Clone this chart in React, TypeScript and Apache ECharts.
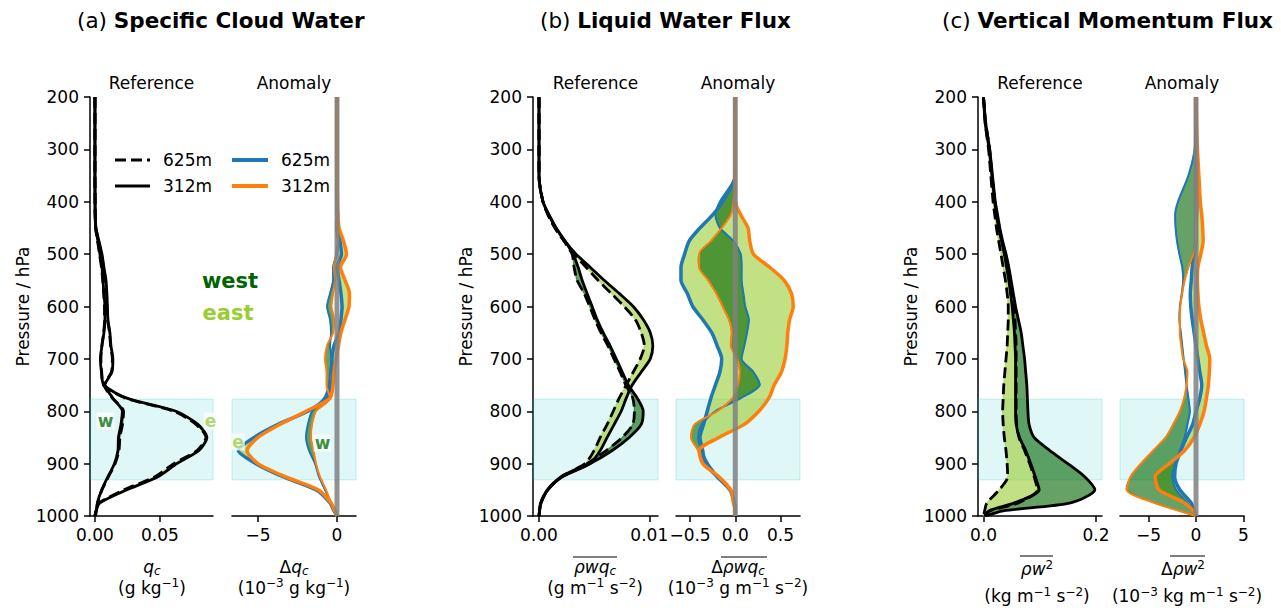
import React, { useEffect, useRef } from "react";
import * as echarts from "echarts";

// pressure levels (hPa)
const P = [200, 250, 300, 350, 400, 425, 450, 475, 500, 525, 550, 575, 600, 625, 650, 675, 700, 725, 750, 775, 800, 825, 850, 875, 900, 925, 950, 975, 990, 1000];
const BOX = [777, 931];
const Y_TICKS_INTERVAL = 100;

// (a) specific cloud water, reference (g/kg)
const A_REF_W625 = [0, 0, 0, 0, 0.0001, 0.0002, 0.0007, 0.0028, 0.005, 0.0066, 0.0081, 0.0089, 0.0093, 0.0097, 0.0112, 0.012, 0.0134, 0.0127, 0.0073, 0.0134, 0.022, 0.0212, 0.0192, 0.0185, 0.0155, 0.0104, 0.0055, 0.002, 0.0012, 0.0004];
const A_REF_W312 = [0, 0, 0, 0, 0.0001, 0.0002, 0.0008, 0.0031, 0.0054, 0.0069, 0.0085, 0.0092, 0.0096, 0.01, 0.0115, 0.0123, 0.0138, 0.0131, 0.0077, 0.0138, 0.0211, 0.02, 0.0181, 0.0177, 0.015, 0.01, 0.0052, 0.0019, 0.0012, 0.0004];
const A_REF_E625 = [0, 0, 0, 0, 0.0001, 0.0002, 0.0005, 0.002, 0.0035, 0.005, 0.006, 0.0067, 0.0073, 0.0074, 0.0067, 0.0053, 0.0046, 0.0052, 0.0065, 0.0235, 0.0607, 0.0777, 0.0854, 0.0785, 0.0607, 0.0461, 0.0223, 0.0033, 0.0007, 0];
const A_REF_E312 = [0, 0, 0, 0, 0.0001, 0.0002, 0.0005, 0.0023, 0.0038, 0.0054, 0.0062, 0.0069, 0.0077, 0.0077, 0.0069, 0.0054, 0.0042, 0.005, 0.0069, 0.0246, 0.0623, 0.0792, 0.0861, 0.08, 0.063, 0.0484, 0.0246, 0.0038, 0.0008, 0];
// (a) anomaly (1e-3 g/kg)
const A_ANO_W625 = [0, 0, 0, 0, 0, 0, -0.06, 0.06, 0, -0.25, -0.25, -0.44, -0.63, -0.44, -0.38, -0.44, -0.35, -0.44, -0.51, -0.82, -1.58, -1.84, -1.96, -1.77, -1.39, -1.14, -0.76, -0.38, -0.19, 0];
const A_ANO_W312 = [0, 0, 0, 0, 0, 0, 0, 0.06, -0.06, -0.19, -0.13, -0.25, -0.35, -0.19, -0.25, -0.63, -0.76, -0.66, -0.66, -0.44, -1.33, -1.58, -1.65, -1.49, -1.33, -1.08, -0.7, -0.38, -0.19, 0];
const A_ANO_E625 = [0, 0, 0, 0, 0, 0.03, 0.06, 0.19, 0.28, 0, 0.13, 0.25, 0.32, 0.25, 0.13, -0.19, -0.32, -0.28, -0.38, -0.7, -1.84, -3.73, -5.25, -6.25, -5.13, -3.42, -1.33, -0.44, -0.19, 0];
const A_ANO_E312 = [0, 0, 0, 0, 0.03, 0.06, 0.13, 0.41, 0.6, 0.22, 0.51, 0.79, 0.76, 0.51, 0.25, 0.09, -0.06, -0.19, -0.25, -0.44, -1.96, -3.61, -5.0, -5.7, -5.0, -3.29, -1.2, -0.38, -0.13, 0];

// (b) liquid water flux, reference (g m-1 s-2)
const B_REF_W625 = [0, 0, 0, 0, 0.00036, 0.00082, 0.00145, 0.00227, 0.003, 0.00318, 0.00345, 0.0041, 0.0046, 0.00507, 0.00562, 0.00625, 0.0068, 0.00735, 0.00787, 0.0085, 0.00865, 0.0085, 0.00755, 0.00609, 0.00436, 0.002, 0.00075, 0.00014, 0.00005, 0];
const B_REF_W312 = [0, 0, 0, 0, 0.00036, 0.00091, 0.00155, 0.00236, 0.00309, 0.00355, 0.00391, 0.00436, 0.00482, 0.00527, 0.00582, 0.00645, 0.007, 0.00755, 0.00809, 0.00891, 0.00945, 0.00927, 0.00818, 0.00664, 0.00464, 0.0021, 0.0008, 0.00018, 0.00005, 0];
const B_REF_E625 = [0, 0, 0, 0, 0.00036, 0.00082, 0.00145, 0.00227, 0.00318, 0.00427, 0.00536, 0.00655, 0.00773, 0.00873, 0.00927, 0.00955, 0.00918, 0.00855, 0.00791, 0.00727, 0.00673, 0.00618, 0.00555, 0.005, 0.00418, 0.002, 0.00075, 0.00014, 0.00005, 0];
const B_REF_E312 = [0, 0, 0, 0, 0.00036, 0.00091, 0.00155, 0.00236, 0.00336, 0.00464, 0.00591, 0.00727, 0.00855, 0.00945, 0.01009, 0.01032, 0.01009, 0.00927, 0.00845, 0.00791, 0.00745, 0.00682, 0.00618, 0.00555, 0.00464, 0.0021, 0.0008, 0.00018, 0.00005, 0];
// (b) anomaly (1e-3 g m-1 s-2)
const B_ANO_W625 = [0, 0, 0, 0, -0.17, -0.22, -0.17, -0.02, 0.06, 0.07, 0.07, 0.09, 0.11, 0.15, 0.13, 0.1, 0.07, 0.2, 0.27, 0.06, -0.22, -0.37, -0.41, -0.37, -0.3, -0.19, -0.06, -0.01, 0, 0];
const B_ANO_W312 = [0, 0, 0, 0, -0.02, -0.05, -0.15, -0.27, -0.4, -0.4, -0.3, -0.21, -0.14, -0.07, -0.04, -0.05, 0.02, 0.05, 0.03, -0.03, -0.2, -0.45, -0.49, -0.41, -0.35, -0.19, -0.06, -0.01, 0, 0];
const B_ANO_E625 = [0, 0, 0, 0, -0.14, -0.25, -0.39, -0.51, -0.56, -0.6, -0.6, -0.53, -0.47, -0.36, -0.26, -0.2, -0.15, -0.17, -0.22, -0.27, -0.31, -0.35, -0.39, -0.36, -0.33, -0.2, -0.06, -0.01, 0, 0];
const B_ANO_E312 = [0, 0, 0, 0, 0, 0.06, 0.14, 0.16, 0.2, 0.38, 0.54, 0.62, 0.64, 0.6, 0.58, 0.57, 0.55, 0.51, 0.43, 0.37, 0.26, 0.1, -0.18, -0.4, -0.36, -0.18, -0.05, -0.02, 0, 0];

// (c) vertical momentum flux, reference (kg m-1 s-2)
const C_REF_W625 = [0, 0.004, 0.011, 0.015, 0.02, 0.024, 0.028, 0.033, 0.039, 0.044, 0.048, 0.051, 0.054, 0.056, 0.057, 0.058, 0.058, 0.058, 0.058, 0.058, 0.058, 0.059, 0.063, 0.073, 0.082, 0.09, 0.096, 0.062, 0.012, 0.002];
const C_REF_W312 = [0, 0.004, 0.011, 0.016, 0.021, 0.025, 0.029, 0.034, 0.04, 0.045, 0.049, 0.053, 0.057, 0.062, 0.067, 0.07, 0.073, 0.075, 0.077, 0.078, 0.079, 0.081, 0.09, 0.118, 0.15, 0.18, 0.198, 0.155, 0.035, 0.003];
const C_REF_E625 = [0, 0.003, 0.009, 0.013, 0.017, 0.02, 0.023, 0.027, 0.031, 0.035, 0.039, 0.042, 0.044, 0.044, 0.043, 0.042, 0.04, 0.038, 0.036, 0.035, 0.034, 0.035, 0.037, 0.04, 0.042, 0.043, 0.028, 0.006, 0.002, 0];
const C_REF_E312 = [0, 0.003, 0.01, 0.015, 0.02, 0.023, 0.027, 0.032, 0.037, 0.041, 0.045, 0.048, 0.051, 0.053, 0.055, 0.056, 0.057, 0.057, 0.057, 0.057, 0.057, 0.058, 0.064, 0.075, 0.084, 0.092, 0.099, 0.055, 0.01, 0.002];
// (c) anomaly (1e-3 kg m-1 s-2)
const C_ANO_W625 = [0, -0.05, -0.15, -0.8, -1.9, -2.2, -2.15, -2.0, -1.75, -1.45, -1.35, -1.5, -1.7, -1.75, -1.6, -1.45, -1.3, -1.15, -1.0, -0.8, -0.65, -0.9, -1.2, -1.7, -2.2, -2.5, -2.1, -0.9, -0.3, 0];
const C_ANO_W312 = [0, 0.05, 0.1, 0.15, 0.1, 0.05, 0, 0, -0.3, -0.8, -1.2, -1.45, -1.65, -1.7, -1.7, -1.55, -1.35, -0.9, -1.0, -1.25, -1.7, -2.4, -3.2, -4.5, -5.8, -6.9, -7.3, -4.4, -1.8, 0];
const C_ANO_E625 = [0, 0, 0.05, 0.1, 0.1, 0.05, 0, 0, -0.2, -0.4, -0.5, -0.6, -0.55, -0.4, -0.2, 0, 0.2, 0.4, 0.6, 0.4, 0, -0.35, -1.0, -1.6, -2.1, -2.25, -1.7, -0.5, -0.2, 0];
const C_ANO_E312 = [0, 0.05, 0.15, 0.3, 0.45, 0.6, 0.7, 0.75, 0.5, 0.2, 0.15, 0.2, 0.3, 0.5, 0.8, 1.1, 1.45, 1.4, 1.3, 1.1, 0.85, 0.4, -0.2, -1.2, -2.8, -4.3, -3.9, -1.2, -0.3, 0];

const FONT = "DejaVu Sans";
const BLUE = "#1f77b4";
const ORANGE = "#ff7f0e";
const DARK = "rgba(0,100,0,0.6)";
const LIGHT = "rgba(154,205,50,0.6)";
const SMOOTH = 0.25;

interface Panel {
  left: number; width: number; min: number; max: number; ticks: number[]; dec: number; ref: boolean;
  w625: number[]; w312: number[]; e625: number[]; e312: number[];
}

const panels: Panel[] = [
  { left: 90, width: 123, min: -0.0038, max: 0.0908, ticks: [0, 0.05], dec: 2, ref: true, w625: A_REF_W625, w312: A_REF_W312, e625: A_REF_E625, e312: A_REF_E312 },
  { left: 232, width: 124, min: -6.646, max: 1.203, ticks: [-5, 0], dec: 0, ref: false, w625: A_ANO_W625, w312: A_ANO_W312, e625: A_ANO_E625, e312: A_ANO_E312 },
  { left: 533, width: 125, min: -0.000544, max: 0.01079, ticks: [0, 0.01], dec: 2, ref: true, w625: B_REF_W625, w312: B_REF_W312, e625: B_REF_E625, e312: B_REF_E312 },
  { left: 676, width: 124, min: -0.655, max: 0.715, ticks: [-0.5, 0, 0.5], dec: 1, ref: false, w625: B_ANO_W625, w312: B_ANO_W312, e625: B_ANO_E625, e312: B_ANO_E312 },
  { left: 978, width: 124, min: -0.0098, max: 0.2107, ticks: [0, 0.2], dec: 1, ref: true, w625: C_REF_W625, w312: C_REF_W312, e625: C_REF_E625, e312: C_REF_E312 },
  { left: 1120, width: 124, min: -8, max: 5.05, ticks: [-5, 0, 5], dec: 0, ref: false, w625: C_ANO_W625, w312: C_ANO_W312, e625: C_ANO_E625, e312: C_ANO_E312 },
];

const GRID_TOP = 97;
const GRID_H = 419;

const fmt = (v: number, dec: number) => v.toFixed(dec).replace("-", "\u2212");

function fillSeries(i: number, a: number[], b: number[], color: string, z: number) {
  return {
    type: "custom",
    xAxisIndex: i,
    yAxisIndex: i,
    silent: true,
    z,
    data: [[0, 600]],
    renderItem: (params: any, api: any) => {
      const pts: number[][] = [];
      for (let k = 0; k < P.length; k++) pts.push(api.coord([a[k], P[k]]));
      for (let k = P.length - 1; k >= 0; k--) pts.push(api.coord([b[k], P[k]]));
      return {
        type: "polygon",
        shape: { points: pts, smooth: SMOOTH },
        style: { fill: color, stroke: color, lineWidth: 1.2 },
      };
    },
  };
}

function lineSeries(i: number, vals: number[], color: string, width: number, dashed: boolean, z: number) {
  return {
    type: "line",
    xAxisIndex: i,
    yAxisIndex: i,
    silent: true,
    z,
    symbol: "none",
    smooth: SMOOTH,
    data: P.map((p, k) => [vals[k], p]),
    lineStyle: { color, width, type: dashed ? [11, 5] : "solid", cap: "butt" },
  };
}

const RICH = {
  m: { fontSize: 17, fontFamily: FONT, lineHeight: 21, verticalAlign: "middle" },
  i: { fontSize: 17, fontFamily: FONT, fontStyle: "italic", lineHeight: 21, verticalAlign: "middle" },
  sub: { fontSize: 12, fontFamily: FONT, fontStyle: "italic", lineHeight: 12, verticalAlign: "bottom" },
  sup: { fontSize: 12, fontFamily: FONT, lineHeight: 12, verticalAlign: "top" },
};

function txt(x: number, y: number, text: string, extra: any = {}) {
  return {
    type: "text",
    x,
    y,
    silent: true,
    z: 20,
    style: {
      text,
      rich: RICH,
      fill: "#000",
      fontSize: 17,
      fontFamily: FONT,
      align: "center",
      verticalAlign: "middle",
      textAlign: "center",
      textVerticalAlign: "middle",
      ...extra,
    },
  };
}

function hline(x1: number, x2: number, y: number, stroke: string, lw: number, dash?: number[]) {
  return {
    type: "line",
    silent: true,
    z: 20,
    shape: { x1, y1: y, x2, y2: y },
    style: { stroke, lineWidth: lw, lineDash: dash || null },
  };
}

function buildOption() {
  const axisLineStyle = { color: "#000", width: 1.5 };
  const grid = panels.map((p) => ({ left: p.left, top: GRID_TOP, width: p.width, height: GRID_H }));
  const xAxis = panels.map((p, i) => ({
    gridIndex: i,
    type: "value",
    min: p.min,
    max: p.max,
    axisLine: { show: true, onZero: false, lineStyle: axisLineStyle },
    axisTick: { show: true, customValues: p.ticks, length: 6, lineStyle: axisLineStyle },
    axisLabel: { show: true, customValues: p.ticks, margin: 10, fontSize: 17, color: "#000", fontFamily: FONT, formatter: (v: number) => fmt(v, p.dec) },
    splitLine: { show: false },
  }));
  const yAxis = panels.map((p, i) => ({
    gridIndex: i,
    type: "value",
    min: 200,
    max: 1000,
    interval: Y_TICKS_INTERVAL,
    inverse: true,
    show: p.ref,
    axisLine: { show: true, onZero: false, lineStyle: axisLineStyle },
    axisTick: { show: true, length: 6, lineStyle: axisLineStyle },
    axisLabel: { margin: 11, fontSize: 17, color: "#000", fontFamily: FONT, formatter: (v: number) => String(v) },
    splitLine: { show: false },
    name: "Pressure / hPa",
    nameLocation: "middle",
    nameGap: 58,
    nameRotate: 90,
    nameTextStyle: { fontSize: 17, color: "#000", fontFamily: FONT },
  }));

  const series: any[] = [];
  panels.forEach((p, i) => {
    series.push({
      type: "line",
      xAxisIndex: i,
      yAxisIndex: i,
      silent: true,
      z: 1,
      symbol: "none",
      data: [],
      markArea: {
        silent: true,
        itemStyle: { color: "rgba(0,191,191,0.12)", borderColor: "rgba(0,191,191,0.22)", borderWidth: 1 },
        data: [[{ yAxis: BOX[0] }, { yAxis: BOX[1] }]],
      },
    });
    series.push(fillSeries(i, p.e625, p.e312, LIGHT, 2));
    series.push(fillSeries(i, p.w625, p.w312, DARK, 3));
    if (p.ref) {
      series.push(lineSeries(i, p.w625, "#000", 2.8, true, 4));
      series.push(lineSeries(i, p.e625, "#000", 2.8, true, 4));
      series.push(lineSeries(i, p.w312, "#000", 2.8, false, 4));
      series.push(lineSeries(i, p.e312, "#000", 2.8, false, 4));
    } else {
      series.push(lineSeries(i, p.w625, BLUE, 2, false, 4));
      series.push(lineSeries(i, p.e625, BLUE, 3.5, false, 4));
      series.push(lineSeries(i, p.w312, ORANGE, 2, false, 5));
      series.push(lineSeries(i, p.e312, ORANGE, 3.5, false, 5));
      series.push({
        type: "line",
        xAxisIndex: i,
        yAxisIndex: i,
        silent: true,
        z: 6,
        symbol: "none",
        data: [[0, 200], [0, 1000]],
        lineStyle: { color: "rgba(128,128,128,0.85)", width: 5 },
      });
    }
  });

  const g: any[] = [];
  // panel titles
  const titles: [string, string, number][] = [
    ["(a) ", "Specific Cloud Water", 77],
    ["(b) ", "Liquid Water Flux", 540],
    ["(c) ", "Vertical Momentum Flux", 942],
  ];
  titles.forEach(([a, b, x]) => {
    g.push({
      type: "text",
      x,
      y: 20,
      silent: true,
      style: {
        text: `{n|${a}}{b|${b}}`,
        rich: {
          n: { fontSize: 21.5, fontFamily: FONT },
          b: { fontSize: 21.5, fontFamily: FONT, fontWeight: "bold" },
        },
        fill: "#000",
        align: "left",
        verticalAlign: "middle",
        textAlign: "left",
        textVerticalAlign: "middle",
      },
    });
  });
  // sub-panel headers
  panels.forEach((p) => {
    g.push(txt(p.left + p.width / 2, 83, p.ref ? "Reference" : "Anomaly"));
  });
  // x-axis labels (two lines each)
  g.push(txt(152, 577, "{i|q}{sub|c}\n{m|(g kg}{sup|\u22121}{m|)}"));
  g.push(txt(294, 577, "{m|\u0394}{i|q}{sub|c}\n{m|(10}{sup|\u22123}{m| g kg}{sup|\u22121}{m|)}"));
  g.push(txt(595, 577, "{i|\u03c1wq}{sub|c}\n{m|(g m}{sup|\u22121}{m| s}{sup|\u22122}{m|)}"));
  g.push(hline(573, 617, 557, "#000", 1.2));
  g.push(txt(738, 577, "{m|\u0394}{i|\u03c1wq}{sub|c}\n{m|(10}{sup|\u22123}{m| g m}{sup|\u22121}{m| s}{sup|\u22122}{m|)}"));
  g.push(hline(721, 767, 557, "#000", 1.2));
  g.push(txt(1037, 569, "{i|\u03c1w}{sup|2}"));
  g.push(hline(1020, 1053, 556, "#000", 1.2));
  g.push(txt(1037, 596, "{m|(kg m}{sup|\u22121}{m| s}{sup|\u22122}{m|)}"));
  g.push(txt(1183, 569, "{m|\u0394}{i|\u03c1w}{sup|2}"));
  g.push(hline(1170, 1205, 556, "#000", 1.2));
  g.push(txt(1187, 596, "{m|(10}{sup|\u22123}{m| kg m}{sup|\u22121}{m| s}{sup|\u22122}{m|)}"));
  // legend
  g.push(hline(115, 150, 160, "#000", 3, [11, 5]));
  g.push(hline(115, 150, 186, "#000", 3));
  g.push(hline(232, 268, 160, BLUE, 4));
  g.push(hline(232, 268, 186, ORANGE, 4));
  g.push(txt(163, 160, "625m", { align: "left", textAlign: "left" }));
  g.push(txt(163, 186, "312m", { align: "left", textAlign: "left" }));
  g.push(txt(281, 160, "625m", { align: "left", textAlign: "left" }));
  g.push(txt(281, 186, "312m", { align: "left", textAlign: "left" }));
  // west / east
  g.push(txt(230, 281, "west", { fill: "#006400", fontWeight: "bold", fontSize: 21 }));
  g.push(txt(228, 313, "east", { fill: "#9acd32", fontWeight: "bold", fontSize: 21 }));
  // w / e markers
  const tag = (x: number, y: number, t: string, c: string) =>
    txt(x, y, t, { fill: c, fontWeight: "bold", fontSize: 17, backgroundColor: "rgba(255,255,255,0.75)", padding: [0, 1, 0, 1] });
  g.push(tag(105.5, 421, "w", "#3f8f3f"));
  g.push(tag(210.5, 421, "e", "#b0d870"));
  g.push(tag(238, 442, "e", "#b0d870"));
  g.push(tag(322.5, 443, "w", "#3f8f3f"));

  return {
    animation: false,
    backgroundColor: "#fff",
    textStyle: { fontFamily: FONT },
    grid,
    xAxis,
    yAxis,
    series,
    graphic: g,
  };
}

export default function App() {
  const ref = useRef<HTMLDivElement>(null);
  useEffect(() => {
    document.body.style.margin = "0";
    const chart = echarts.init(ref.current as HTMLDivElement, undefined, { renderer: "svg" });
    chart.setOption(buildOption() as any);
    return () => chart.dispose();
  }, []);
  return <div ref={ref} style={{ width: 1281, height: 608 }} />;
}
